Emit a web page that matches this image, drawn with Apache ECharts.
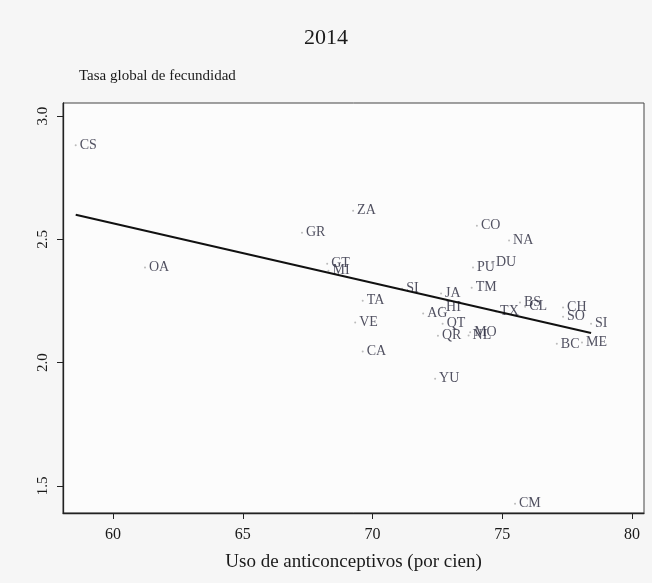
<!DOCTYPE html>
<html>
<head>
<meta charset="utf-8">
<script src="https://cdn.jsdelivr.net/npm/echarts@6/dist/echarts.min.js"></script>
<style>
html,body{margin:0;padding:0;background:#f6f6f6;}
#chart{width:652px;height:583px;}
</style>
</head>
<body>
<div id="chart"></div>
<script>
// Data
const states = ['CS','OA','GR','ZA','GT','MI','TA','VE','CA','SI','AG','JA','HI','QT','QR','YU','MO','NL','TM','PU','DU','CO','NA','TX','BS','CL','CH','SO','SI','BC','ME','CM'];
const contraceptiveUse = [58.56,61.23,67.28,69.25,68.25,68.3,69.62,69.33,69.62,71.14,71.95,72.64,72.68,72.7,72.52,72.41,73.76,73.7,73.82,73.87,74.6,74.02,75.26,74.76,75.68,75.88,77.34,77.34,78.42,77.10,78.07,75.49];
const fertilityRate = [2.882,2.386,2.527,2.616,2.401,2.373,2.251,2.163,2.045,2.30,2.199,2.28,2.224,2.158,2.109,1.935,2.123,2.11,2.304,2.386,2.405,2.555,2.495,2.207,2.244,2.227,2.224,2.186,2.158,2.076,2.082,1.428];
const fitX = [58.56, 78.42];
const fitY = [2.60, 2.12];
const xTicks = [60, 65, 70, 75, 80];
const yTicks = [1.5, 2.0, 2.5, 3.0];

const serif = '"Liberation Serif","DejaVu Serif",serif';
const pts = states.map((s, i) => ({ name: s, value: [contraceptiveUse[i], fertilityRate[i]] }));
const fitLine = fitX.map((x, i) => [x, fitY[i]]);

const chart = echarts.init(document.getElementById('chart'));
chart.setOption({
  backgroundColor: '#f6f6f6',
  animation: false,
  title: [
    { text: '2014', left: 'center', top: 22, textStyle: { fontFamily: serif, fontSize: 22, fontWeight: 'normal', color: '#1a1a1a' } },
    { text: 'Tasa global de fecundidad', left: 74, top: 64, textStyle: { fontFamily: serif, fontSize: 15, fontWeight: 'normal', color: '#1a1a1a' } }
  ],
  grid: { left: 63, right: 8, top: 103, bottom: 70, show: true, backgroundColor: '#fcfcfc', borderColor: '#444', borderWidth: 1 },
  xAxis: {
    type: 'value', min: 58.07, max: 80.46,
    splitLine: { show: false },
    axisLine: { show: true, lineStyle: { color: '#222', width: 1.3 } },
    axisTick: { show: true, length: 6, lineStyle: { color: '#222' }, customValues: xTicks },
    axisLabel: { fontFamily: serif, fontSize: 16, color: '#1a1a1a', margin: 14, customValues: xTicks, formatter: v => String(v) },
    name: 'Uso de anticonceptivos (por cien)', nameLocation: 'middle', nameGap: 40,
    nameTextStyle: { fontFamily: serif, fontSize: 19, color: '#1a1a1a' }
  },
  yAxis: {
    type: 'value', min: 1.39, max: 3.053,
    splitLine: { show: false },
    axisLine: { show: true, lineStyle: { color: '#222', width: 1.3 } },
    axisTick: { show: true, length: 6, lineStyle: { color: '#222' }, customValues: yTicks },
    axisLabel: { fontFamily: serif, fontSize: 15, color: '#1a1a1a', rotate: 90, margin: 12, customValues: yTicks, formatter: v => v.toFixed(1) }
  },
  series: [
    {
      type: 'scatter', data: pts, symbolSize: 2,
      itemStyle: { color: '#aaa' },
      label: { show: true, position: 'right', distance: 3, formatter: p => p.name, fontFamily: serif, fontSize: 14, color: '#26263a' }
    },
    {
      type: 'line', data: fitLine, showSymbol: false, symbol: 'none',
      lineStyle: { color: '#111', width: 2 }
    }
  ]
});
</script>
</body>
</html>
